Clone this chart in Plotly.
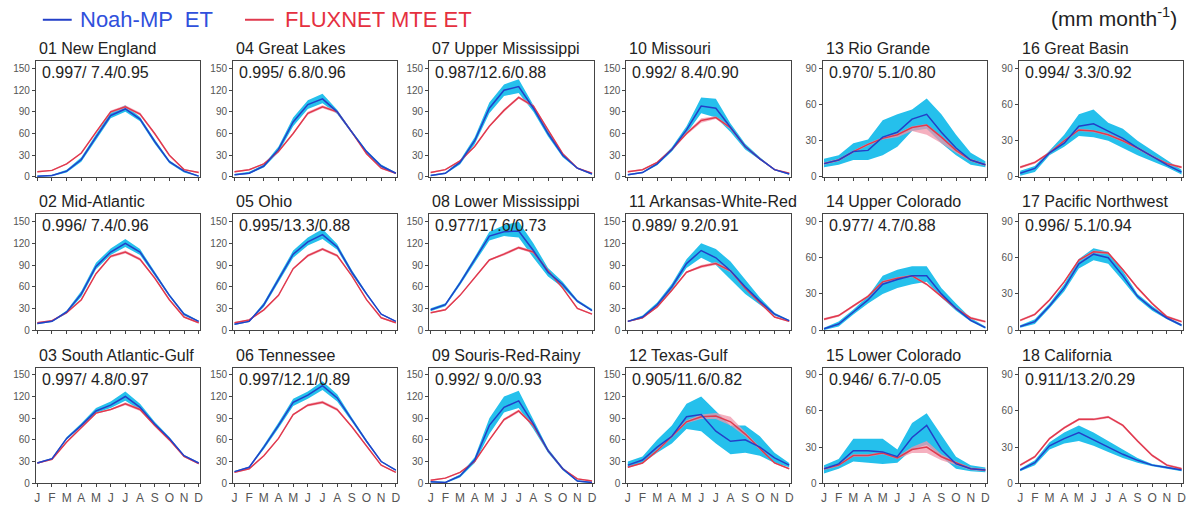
import plotly.graph_objects as go

months = ["J", "F", "M", "A", "M", "J", "J", "A", "S", "O", "N", "D"]
month_x = list(range(1, 13))

# ---------------- data (mm/month) ----------------
# 01 New England
ne_noah = [1, 2, 8, 24, 55, 85, 94, 80, 49, 21, 8, 1]
ne_noah_lo = [0, 1, 6, 21, 51, 81, 90, 77, 46, 19, 6, 0]
ne_noah_hi = [2, 3, 10, 27, 59, 89, 99, 83, 52, 23, 9, 2]
ne_mte = [7, 9, 18, 33, 62, 90, 97, 87, 60, 30, 10, 6]
ne_mte_lo = [6, 8, 17, 32, 60, 88, 95, 85, 58, 29, 9, 5]
ne_mte_hi = [8, 10, 19, 34, 63, 92, 99, 89, 61, 31, 11, 7]
# 02 Mid-Atlantic
ma_noah = [9, 12, 25, 50, 88, 108, 120, 108, 78, 48, 22, 12]
ma_noah_lo = [8, 11, 23, 46, 84, 104, 115, 104, 75, 46, 20, 11]
ma_noah_hi = [10, 13, 27, 54, 93, 113, 126, 112, 81, 50, 24, 13]
ma_mte = [10, 13, 24, 42, 78, 102, 108, 98, 72, 42, 18, 10]
ma_mte_lo = [9, 12, 23, 41, 77, 100, 106, 96, 71, 41, 17, 9]
ma_mte_hi = [11, 14, 25, 43, 79, 104, 110, 100, 73, 43, 19, 11]
# 03 South Atlantic-Gulf
sag_noah = [28, 34, 62, 80, 100, 108, 120, 105, 82, 62, 38, 28]
sag_noah_lo = [27, 33, 60, 78, 97, 104, 114, 101, 80, 60, 37, 27]
sag_noah_hi = [29, 35, 64, 83, 104, 113, 127, 110, 85, 64, 39, 29]
sag_mte = [28, 33, 57, 77, 97, 102, 110, 102, 80, 60, 37, 27]
sag_mte_lo = [27, 32, 56, 76, 96, 101, 108, 100, 79, 59, 36, 26]
sag_mte_hi = [29, 34, 58, 78, 98, 103, 112, 104, 81, 61, 38, 28]
# 04 Great Lakes
gl_noah = [3, 5, 15, 38, 76, 100, 108, 90, 62, 35, 15, 5]
gl_noah_lo = [2, 4, 13, 34, 70, 94, 102, 87, 60, 33, 13, 4]
gl_noah_hi = [4, 7, 17, 42, 82, 106, 115, 93, 64, 37, 17, 6]
gl_mte = [7, 10, 18, 35, 60, 88, 97, 90, 62, 32, 12, 5]
gl_mte_lo = [6, 9, 17, 34, 59, 86, 95, 88, 61, 31, 11, 4]
gl_mte_hi = [8, 11, 19, 36, 61, 90, 99, 92, 63, 33, 13, 6]
# 05 Ohio
oh_noah = [8, 12, 35, 70, 105, 122, 132, 115, 80, 50, 22, 12]
oh_noah_lo = [7, 11, 32, 66, 100, 117, 126, 111, 77, 48, 21, 11]
oh_noah_hi = [9, 13, 38, 74, 110, 128, 140, 119, 83, 52, 23, 13]
oh_mte = [10, 14, 28, 48, 85, 103, 112, 103, 75, 42, 17, 10]
oh_mte_lo = [9, 13, 27, 47, 84, 101, 110, 101, 74, 41, 16, 9]
oh_mte_hi = [11, 15, 29, 49, 86, 105, 114, 105, 76, 43, 18, 11]
# 06 Tennessee
tn_noah = [16, 22, 50, 80, 112, 122, 135, 118, 88, 58, 30, 18]
tn_noah_lo = [15, 21, 47, 76, 107, 117, 129, 113, 85, 56, 29, 17]
tn_noah_hi = [17, 23, 53, 84, 117, 127, 141, 123, 91, 60, 31, 19]
tn_mte = [15, 20, 38, 62, 95, 108, 112, 102, 78, 52, 25, 15]
tn_mte_lo = [14, 19, 37, 61, 94, 106, 110, 100, 77, 51, 24, 14]
tn_mte_hi = [16, 21, 39, 63, 96, 110, 114, 104, 79, 53, 26, 16]
# 07 Upper Mississippi
um_noah = [2, 5, 20, 50, 95, 120, 125, 95, 60, 30, 12, 4]
um_noah_lo = [1, 4, 17, 45, 88, 112, 116, 90, 56, 27, 11, 3]
um_noah_hi = [3, 6, 23, 55, 103, 128, 135, 100, 64, 33, 13, 5]
um_mte = [6, 10, 22, 42, 70, 92, 110, 98, 65, 32, 12, 5]
um_mte_lo = [5, 9, 21, 41, 69, 90, 108, 96, 64, 31, 11, 4]
um_mte_hi = [7, 11, 23, 43, 71, 94, 112, 100, 66, 33, 13, 6]
# 08 Lower Mississippi
lm_noah = [28, 35, 65, 97, 130, 136, 137, 110, 80, 63, 40, 27]
lm_noah_lo = [26, 33, 62, 93, 124, 130, 128, 100, 74, 59, 38, 26]
lm_noah_hi = [30, 37, 68, 101, 136, 145, 150, 120, 86, 67, 42, 29]
lm_mte = [24, 28, 48, 72, 97, 105, 114, 108, 82, 58, 30, 22]
lm_mte_lo = [23, 27, 47, 71, 96, 103, 112, 106, 81, 57, 29, 21]
lm_mte_hi = [25, 29, 49, 73, 98, 107, 116, 110, 83, 59, 31, 23]
# 09 Souris-Red-Rainy
srr_noah = [2, 1, 10, 32, 80, 105, 114, 82, 45, 20, 3, 1]
srr_noah_lo = [1, 0, 8, 28, 68, 98, 104, 75, 42, 18, 2, 0]
srr_noah_hi = [3, 2, 12, 36, 90, 120, 128, 88, 48, 22, 4, 2]
srr_mte = [4, 7, 15, 30, 60, 88, 100, 80, 45, 20, 6, 3]
srr_mte_lo = [3, 6, 14, 29, 59, 86, 98, 78, 44, 19, 5, 2]
srr_mte_hi = [5, 8, 16, 31, 61, 90, 102, 82, 46, 21, 7, 4]
# 10 Missouri
mo_noah = [3, 6, 18, 38, 65, 98, 95, 68, 42, 25, 10, 4]
mo_noah_lo = [2, 5, 16, 35, 60, 88, 82, 62, 38, 23, 9, 3]
mo_noah_hi = [4, 7, 20, 41, 70, 110, 108, 74, 46, 27, 11, 5]
mo_mte = [7, 10, 20, 38, 60, 78, 82, 68, 42, 25, 10, 5]
mo_mte_lo = [6, 9, 19, 37, 58, 75, 80, 66, 41, 24, 9, 4]
mo_mte_hi = [8, 11, 21, 39, 62, 81, 84, 70, 43, 26, 11, 6]
# 11 Arkansas-White-Red
awr_noah = [12, 18, 35, 60, 92, 110, 100, 82, 60, 40, 22, 13]
awr_noah_lo = [11, 16, 32, 56, 86, 100, 90, 70, 50, 35, 20, 12]
awr_noah_hi = [13, 20, 38, 64, 98, 120, 112, 95, 70, 45, 24, 14]
awr_mte = [12, 17, 32, 55, 80, 88, 92, 82, 58, 38, 18, 12]
awr_mte_lo = [11, 16, 31, 54, 79, 86, 90, 80, 57, 37, 17, 11]
awr_mte_hi = [13, 18, 33, 56, 81, 90, 94, 84, 59, 39, 19, 13]
# 12 Texas-Gulf
tg_noah = [25, 32, 50, 65, 92, 95, 72, 58, 60, 50, 35, 25]
tg_noah_lo = [22, 28, 42, 55, 75, 72, 55, 40, 42, 38, 28, 22]
tg_noah_hi = [30, 37, 60, 80, 110, 120, 100, 80, 80, 65, 42, 28]
tg_mte = [22, 28, 45, 65, 85, 92, 93, 85, 68, 48, 28, 20]
tg_mte_lo = [21, 27, 43, 63, 83, 89, 89, 80, 65, 46, 27, 19]
tg_mte_hi = [23, 29, 47, 67, 87, 95, 97, 92, 71, 50, 29, 21]
# 13 Rio Grande
rg_noah = [11, 14, 21, 22, 33, 37, 48, 52, 37, 24, 14, 10]
rg_noah_lo = [8, 10, 14, 14, 18, 25, 38, 40, 28, 18, 10, 8]
rg_noah_hi = [15, 18, 28, 31, 47, 52, 56, 65, 52, 35, 20, 13]
rg_mte = [11, 14, 21, 27, 32, 35, 41, 43, 33, 22, 14, 10]
rg_mte_lo = [10, 13, 20, 26, 31, 33, 38, 35, 28, 20, 13, 9]
rg_mte_hi = [12, 15, 22, 28, 33, 36, 42, 44, 34, 23, 15, 11]
# 14 Upper Colorado
uc_noah = [1, 5, 15, 25, 38, 42, 45, 45, 30, 18, 8, 2]
uc_noah_lo = [0, 3, 13, 22, 30, 35, 38, 40, 27, 16, 7, 1]
uc_noah_hi = [2, 7, 17, 28, 45, 50, 53, 53, 35, 22, 10, 3]
uc_mte = [9, 12, 20, 28, 40, 43, 45, 38, 28, 18, 10, 7]
uc_mte_lo = [8, 11, 19, 27, 39, 42, 44, 37, 27, 17, 9, 6]
uc_mte_hi = [10, 13, 21, 29, 41, 44, 46, 39, 29, 19, 11, 8]
# 15 Lower Colorado
lc_noah = [12, 16, 27, 27, 26, 22, 38, 48, 28, 16, 12, 11]
lc_noah_lo = [8, 12, 18, 17, 16, 17, 28, 32, 22, 12, 10, 9]
lc_noah_hi = [15, 20, 37, 37, 37, 28, 50, 58, 40, 22, 15, 13]
lc_mte = [12, 15, 23, 23, 25, 21, 28, 30, 22, 17, 12, 11]
lc_mte_lo = [11, 14, 22, 22, 24, 20, 25, 25, 19, 15, 11, 10]
lc_mte_hi = [13, 16, 24, 24, 26, 22, 30, 35, 24, 18, 13, 12]
# 16 Great Basin
gb_noah = [3, 7, 20, 28, 42, 44, 38, 32, 24, 17, 10, 4]
gb_noah_lo = [1, 4, 18, 25, 34, 33, 30, 24, 18, 13, 8, 2]
gb_noah_hi = [5, 9, 22, 35, 52, 56, 45, 40, 30, 22, 14, 6]
gb_mte = [8, 12, 20, 30, 39, 38, 35, 30, 24, 17, 11, 8]
gb_mte_lo = [7, 11, 19, 29, 38, 37, 34, 29, 23, 16, 10, 7]
gb_mte_hi = [9, 13, 21, 31, 40, 39, 36, 31, 25, 18, 12, 9]
# 17 Pacific Northwest
pnw_noah = [3, 7, 20, 35, 55, 63, 60, 45, 28, 18, 10, 4]
pnw_noah_lo = [2, 5, 18, 32, 51, 58, 55, 41, 26, 16, 9, 3]
pnw_noah_hi = [4, 9, 22, 38, 59, 68, 65, 49, 30, 20, 11, 5]
pnw_mte = [8, 13, 25, 40, 58, 65, 64, 50, 35, 22, 11, 7]
pnw_mte_lo = [7, 12, 24, 39, 57, 64, 63, 49, 34, 21, 10, 6]
pnw_mte_hi = [9, 14, 26, 41, 59, 66, 65, 51, 36, 23, 12, 8]
# 18 California
ca_noah = [11, 17, 31, 37, 42, 36, 30, 24, 19, 15, 13, 11]
ca_noah_lo = [10, 15, 28, 33, 35, 31, 26, 21, 17, 14, 12, 10]
ca_noah_hi = [12, 19, 34, 42, 48, 42, 35, 28, 21, 16, 14, 12]
ca_mte = [15, 22, 37, 46, 53, 53, 55, 48, 35, 23, 15, 12]
ca_mte_lo = [14, 21, 36, 45, 52, 52, 54, 47, 34, 22, 14, 11]
ca_mte_hi = [16, 23, 38, 47, 54, 54, 56, 49, 36, 24, 16, 13]

basin_names = ["01 New England", "02 Mid-Atlantic", "03 South Atlantic-Gulf",
               "04 Great Lakes", "05 Ohio", "06 Tennessee",
               "07 Upper Mississippi", "08 Lower Mississippi", "09 Souris-Red-Rainy",
               "10 Missouri", "11 Arkansas-White-Red", "12 Texas-Gulf",
               "13 Rio Grande", "14 Upper Colorado", "15 Lower Colorado",
               "16 Great Basin", "17 Pacific Northwest", "18 California"]
basin_stats = ["0.997/ 7.4/0.95", "0.996/ 7.4/0.96", "0.997/ 4.8/0.97",
               "0.995/ 6.8/0.96", "0.995/13.3/0.88", "0.997/12.1/0.89",
               "0.987/12.6/0.88", "0.977/17.6/0.73", "0.992/ 9.0/0.93",
               "0.992/ 8.4/0.90", "0.989/ 9.2/0.91", "0.905/11.6/0.82",
               "0.970/ 5.1/0.80", "0.977/ 4.7/0.88", "0.946/ 6.7/-0.05",
               "0.994/ 3.3/0.92", "0.996/ 5.1/0.94", "0.911/13.2/0.29"]
basin_series = [
    (ne_noah, ne_noah_lo, ne_noah_hi, ne_mte, ne_mte_lo, ne_mte_hi),
    (ma_noah, ma_noah_lo, ma_noah_hi, ma_mte, ma_mte_lo, ma_mte_hi),
    (sag_noah, sag_noah_lo, sag_noah_hi, sag_mte, sag_mte_lo, sag_mte_hi),
    (gl_noah, gl_noah_lo, gl_noah_hi, gl_mte, gl_mte_lo, gl_mte_hi),
    (oh_noah, oh_noah_lo, oh_noah_hi, oh_mte, oh_mte_lo, oh_mte_hi),
    (tn_noah, tn_noah_lo, tn_noah_hi, tn_mte, tn_mte_lo, tn_mte_hi),
    (um_noah, um_noah_lo, um_noah_hi, um_mte, um_mte_lo, um_mte_hi),
    (lm_noah, lm_noah_lo, lm_noah_hi, lm_mte, lm_mte_lo, lm_mte_hi),
    (srr_noah, srr_noah_lo, srr_noah_hi, srr_mte, srr_mte_lo, srr_mte_hi),
    (mo_noah, mo_noah_lo, mo_noah_hi, mo_mte, mo_mte_lo, mo_mte_hi),
    (awr_noah, awr_noah_lo, awr_noah_hi, awr_mte, awr_mte_lo, awr_mte_hi),
    (tg_noah, tg_noah_lo, tg_noah_hi, tg_mte, tg_mte_lo, tg_mte_hi),
    (rg_noah, rg_noah_lo, rg_noah_hi, rg_mte, rg_mte_lo, rg_mte_hi),
    (uc_noah, uc_noah_lo, uc_noah_hi, uc_mte, uc_mte_lo, uc_mte_hi),
    (lc_noah, lc_noah_lo, lc_noah_hi, lc_mte, lc_mte_lo, lc_mte_hi),
    (gb_noah, gb_noah_lo, gb_noah_hi, gb_mte, gb_mte_lo, gb_mte_hi),
    (pnw_noah, pnw_noah_lo, pnw_noah_hi, pnw_mte, pnw_mte_lo, pnw_mte_hi),
    (ca_noah, ca_noah_lo, ca_noah_hi, ca_mte, ca_mte_lo, ca_mte_hi),
]
legend_labels = ["Noah-MP  ET", "FLUXNET MTE ET"]

# ---------------- styling ----------------
W, H = 1189, 506
FONT = "Liberation Sans, Arial, sans-serif"
BLUE = "#2340c8"
BAND_BLUE = "#25c0ec"
RED = "#e03a4e"
BAND_RED = "rgba(242,150,170,0.75)"
col_left = [34, 232, 429, 627, 824, 1021]
box_w = 165
row_top = [62, 217, 372]
box_h = 117

fig = go.Figure()
annotations = []
shapes = []
for i, name in enumerate(basin_names):
    col, row = i // 3, i % 3
    k = i + 1
    xa = "x" if k == 1 else f"x{k}"
    ya = "y" if k == 1 else f"y{k}"
    noah, noah_lo, noah_hi, mte, mte_lo, mte_hi = basin_series[i]
    # Noah-MP spread band
    fig.add_trace(go.Scatter(x=month_x, y=noah_hi, xaxis=xa, yaxis=ya, mode="lines",
                             line=dict(width=0, color=BAND_BLUE), showlegend=False, hoverinfo="skip"))
    fig.add_trace(go.Scatter(x=month_x, y=noah_lo, xaxis=xa, yaxis=ya, mode="lines",
                             line=dict(width=0, color=BAND_BLUE), fill="tonexty",
                             fillcolor=BAND_BLUE, showlegend=False, hoverinfo="skip"))
    # MTE spread band
    fig.add_trace(go.Scatter(x=month_x, y=mte_hi, xaxis=xa, yaxis=ya, mode="lines",
                             line=dict(width=0, color=BAND_RED), showlegend=False, hoverinfo="skip"))
    fig.add_trace(go.Scatter(x=month_x, y=mte_lo, xaxis=xa, yaxis=ya, mode="lines",
                             line=dict(width=0, color=BAND_RED), fill="tonexty",
                             fillcolor=BAND_RED, showlegend=False, hoverinfo="skip"))
    # mean lines
    fig.add_trace(go.Scatter(x=month_x, y=mte, xaxis=xa, yaxis=ya, mode="lines",
                             line=dict(width=1.5, color=RED), name=legend_labels[1],
                             showlegend=False))
    fig.add_trace(go.Scatter(x=month_x, y=noah, xaxis=xa, yaxis=ya, mode="lines",
                             line=dict(width=1.5, color=BLUE), name=legend_labels[0],
                             showlegend=False))

    x0 = col_left[col] / W
    x1 = (col_left[col] + box_w) / W
    y1 = 1 - row_top[row] / H
    y0 = 1 - (row_top[row] + box_h) / H
    small = col >= 4
    xkey = "xaxis" if k == 1 else f"xaxis{k}"
    ykey = "yaxis" if k == 1 else f"yaxis{k}"
    fig.layout[xkey] = dict(
        domain=[x0, x1], anchor=ya, range=[0.9, 12.1],
        tickmode="array", tickvals=month_x, ticktext=months,
        showticklabels=(row == 2), ticks="outside", ticklen=3, tickwidth=1,
        tickcolor="#444", showline=True, linecolor="#444", linewidth=1, mirror=True,
        showgrid=False, zeroline=False,
        tickfont=dict(family=FONT, size=12, color="#555"),
    )
    fig.layout[ykey] = dict(
        domain=[y0, y1], anchor=xa, range=[0, 96] if small else [0, 160],
        tickmode="array", tickvals=[0, 30, 60, 90] if small else [0, 30, 60, 90, 120, 150],
        ticks="outside", ticklen=3, tickwidth=1, tickcolor="#444",
        showline=True, linecolor="#444", linewidth=1, mirror=True,
        showgrid=False, zeroline=False,
        tickfont=dict(family=FONT, size=10, color="#555"),
    )
    annotations.append(dict(text=name, xref="paper", yref="paper", x=x0 + 1 / W,
                            y=y1 + 2 / H, xanchor="left", yanchor="bottom", showarrow=False,
                            font=dict(family=FONT, size=16, color="#222")))
    annotations.append(dict(text=basin_stats[i], xref="paper", yref="paper", x=x0 + 4 / W,
                            y=y1 - 1 / H, xanchor="left", yanchor="top", showarrow=False,
                            font=dict(family=FONT, size=16, color="#222")))

# legend (drawn manually to match the original placement)
legend_y = 1 - 20 / H
for (lx0, lx1, tx, col_line, col_txt, lab) in [
        (41, 70, 76, BLUE, "#3050dc", legend_labels[0]),
        (244, 273, 282, RED, "#e5303f", legend_labels[1])]:
    shapes.append(dict(type="line", xref="paper", yref="paper", x0=lx0 / W, x1=lx1 / W,
                       y0=legend_y, y1=legend_y, line=dict(color=col_line, width=2)))
    annotations.append(dict(text=lab, xref="paper", yref="paper", x=tx / W, y=legend_y,
                            xanchor="left", yanchor="middle", showarrow=False,
                            font=dict(family=FONT, size=22, color=col_txt)))

annotations.append(dict(text="(mm month<sup>-1</sup>)", xref="paper", yref="paper",
                        x=1182 / W, y=1 - 2 / H, xanchor="right", yanchor="top", showarrow=False,
                        font=dict(family=FONT, size=21, color="#222")))

fig.update_layout(
    width=W, height=H, margin=dict(l=0, r=0, t=0, b=0),
    paper_bgcolor="white", plot_bgcolor="white",
    annotations=annotations, shapes=shapes,
    showlegend=False,
    font=dict(family=FONT),
)

fig.write_html("out.html")
